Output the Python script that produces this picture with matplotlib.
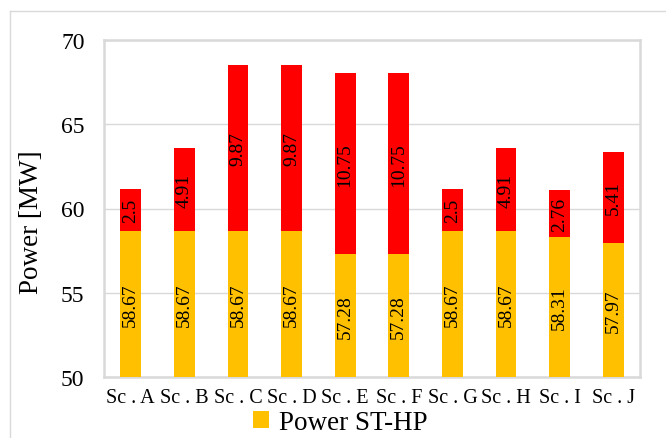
import matplotlib
matplotlib.use("Agg")
import matplotlib.pyplot as plt
from matplotlib.patches import Patch
from matplotlib.lines import Line2D

plt.rcParams["font.family"] = ["Liberation Serif", "DejaVu Serif"]

# Data
scenarios = ["Sc . A", "Sc . B", "Sc . C", "Sc . D", "Sc . E",
             "Sc . F", "Sc . G", "Sc . H", "Sc . I", "Sc . J"]
power_st_hp = [58.67, 58.67, 58.67, 58.67, 57.28, 57.28, 58.67, 58.67, 58.31, 57.97]
power_extra = [2.5, 4.91, 9.87, 9.87, 10.75, 10.75, 2.5, 4.91, 2.76, 5.41]
y_ticks = [50, 55, 60, 65, 70]

yellow = "#FFC000"
red = "#FF0000"
grid_grey = "#D9D9D9"

fig = plt.figure(figsize=(6.66, 4.39), dpi=100)
ax = fig.add_axes([104 / 666, 1 - 378 / 439, 536 / 666, 337 / 439])

x = range(len(scenarios))
ax.bar(x, power_st_hp, width=0.39, color=yellow, zorder=3)
ax.bar(x, power_extra, width=0.39, bottom=power_st_hp, color=red, zorder=3)

# Value labels, rotated, centred in each segment
for i, (b, t) in enumerate(zip(power_st_hp, power_extra)):
    ax.text(i, (50 + b) / 2, f"{b:g}", rotation=90, ha="center", va="center",
            fontsize=14, zorder=4)
    ax.text(i, b + t / 2, f"{t:g}", rotation=90, ha="center", va="center",
            fontsize=14, zorder=4)

ax.set_ylim(50, 70)
ax.set_xlim(-0.5, len(scenarios) - 0.5)
ax.set_yticks(y_ticks)
ax.set_xticks(list(x))
ax.set_xticklabels(scenarios)
ax.tick_params(axis="y", length=0, pad=14, labelsize=17)
ax.tick_params(axis="x", length=0, pad=8, labelsize=14.5)

ax.yaxis.grid(True, color=grid_grey, linewidth=1.0, zorder=0)
ax.set_axisbelow(True)
for side in ["top", "bottom", "left", "right"]:
    ax.spines[side].set_color(grid_grey)
    ax.spines[side].set_linewidth(1.8)

fig.text(32 / 666, 1 - 222 / 439, "Power [MW]", rotation=90,
         ha="center", va="center", fontsize=19.5)

# Outer chart frame (cut by the image edge on right and bottom)
fig.add_artist(Line2D([9.5 / 666, 1.0], [1 - 11.5 / 439, 1 - 11.5 / 439],
                      transform=fig.transFigure, color=grid_grey, linewidth=1.0))
fig.add_artist(Line2D([9.5 / 666, 9.5 / 666], [0.0, 1 - 11.5 / 439],
                      transform=fig.transFigure, color=grid_grey, linewidth=1.0))

handle = Patch(facecolor=yellow, edgecolor="none")
fig.legend([handle], ["Power ST-HP"], loc="upper center",
           bbox_to_anchor=(340 / 666, 1 - 411 / 439), frameon=False,
           fontsize=19.5, handlelength=0.6, handleheight=0.6,
           handletextpad=0.35, borderpad=0, borderaxespad=0)

fig.savefig("out.png", dpi=100)
